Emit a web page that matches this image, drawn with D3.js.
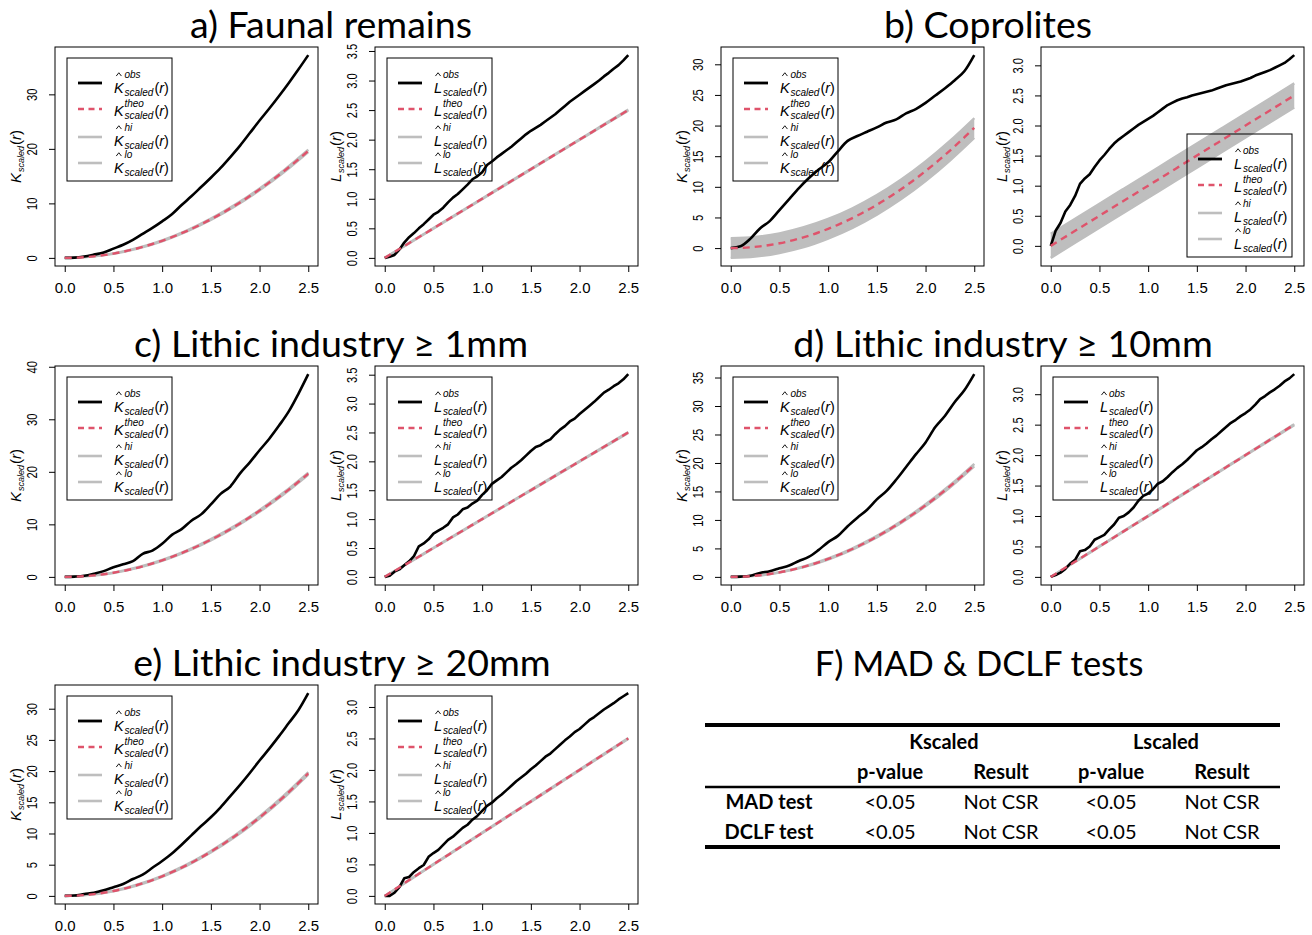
<!DOCTYPE html>
<html>
<head>
<meta charset="utf-8">
<script src="https://cdn.jsdelivr.net/npm/d3@7"></script>
<style>
  body { margin: 0; background: #fff; }
  svg text { font-family: "Liberation Sans", Arial, Helvetica, sans-serif; fill: #000; }
  svg text.ttl, svg text.tbl { font-family: Lato, "Open Sans", sans-serif; }
</style>
</head>
<body>
<svg id="fig" width="1312" height="935"></svg>
<script>
// ---- distance grids (r) ----
const rCoarse = [0, 0.1, 0.2, 0.3, 0.4, 0.5, 0.6, 0.7, 0.8, 0.9, 1.0, 1.1, 1.2, 1.3, 1.4, 1.5, 1.6, 1.7, 1.8, 1.9, 2.0, 2.1, 2.2, 2.3, 2.4, 2.5];
const rFine = [0, 0.05, 0.1, 0.15, 0.2, 0.25, 0.3, 0.35, 0.4, 0.45, 0.5, 0.55, 0.6, 0.65, 0.7, 0.75, 0.8, 0.85, 0.9, 0.95,
  1.0, 1.05, 1.1, 1.15, 1.2, 1.25, 1.3, 1.35, 1.4, 1.45, 1.5, 1.55, 1.6, 1.65, 1.7, 1.75, 1.8, 1.85, 1.9, 1.95,
  2.0, 2.05, 2.1, 2.15, 2.2, 2.25, 2.3, 2.35, 2.4, 2.45, 2.5];
const rEnv = [0, 0.25, 0.5, 0.75, 1.0, 1.25, 1.5, 1.75, 2.0, 2.25, 2.5];

// ---- theoretical (CSR) curves on rCoarse ----
const kTheo = [0, 0.031, 0.126, 0.283, 0.503, 0.785, 1.131, 1.539, 2.011, 2.545, 3.142, 3.801, 4.524, 5.309, 6.158, 7.069, 8.042, 9.079, 10.18, 11.34, 12.57, 13.85, 15.21, 16.62, 18.10, 19.63];
const lTheo = [0, 0.1, 0.2, 0.3, 0.4, 0.5, 0.6, 0.7, 0.8, 0.9, 1.0, 1.1, 1.2, 1.3, 1.4, 1.5, 1.6, 1.7, 1.8, 1.9, 2.0, 2.1, 2.2, 2.3, 2.4, 2.5];

// ---- simulation envelopes on rEnv ----
const kHiNarrow = [0, 0.21, 0.82, 1.83, 3.23, 5.02, 7.20, 9.77, 12.74, 16.10, 19.85];
const kLoNarrow = [0, 0.18, 0.75, 1.70, 3.05, 4.80, 6.94, 9.47, 12.39, 15.70, 19.42];
const lHiNarrow = [0, 0.254, 0.505, 0.756, 1.006, 1.257, 1.507, 1.757, 2.007, 2.258, 2.508];
const lLoNarrow = [0, 0.246, 0.495, 0.744, 0.994, 1.243, 1.493, 1.743, 1.993, 2.242, 2.492];
const kHiCopro = [1.6, 1.8, 2.4, 3.4, 4.75, 6.5, 8.65, 11.2, 14.15, 17.5, 21.2];
const kLoCopro = [-1.6, -1.4, -0.8, 0.15, 1.55, 3.3, 5.45, 8.0, 10.95, 14.3, 18.0];
const lHiCopro = [0.2, 0.45, 0.7, 0.95, 1.2, 1.45, 1.7, 1.95, 2.2, 2.45, 2.7];
const lLoCopro = [-0.2, 0.05, 0.3, 0.55, 0.8, 1.05, 1.3, 1.55, 1.8, 2.05, 2.3];

// ---- observed K (rCoarse) and L (rFine) ----
const kObsFaunal = [0, 0.05, 0.25, 0.6, 1.0, 1.7, 2.4, 3.3, 4.4, 5.5, 6.7, 8.0, 9.7, 11.3, 13.0, 14.7, 16.5, 18.5, 20.6, 22.9, 25.2, 27.4, 29.7, 32.1, 34.6, 37.2];
const lObsFaunal = [0, 0.02, 0.05, 0.14, 0.26, 0.35, 0.42, 0.50, 0.57, 0.65, 0.73, 0.78, 0.85, 0.94, 1.02, 1.08, 1.16, 1.24, 1.33, 1.38,
  1.45, 1.57, 1.63, 1.70, 1.76, 1.82, 1.88, 1.95, 2.02, 2.09, 2.15, 2.20, 2.25, 2.31, 2.37, 2.43, 2.50, 2.57, 2.64, 2.70,
  2.76, 2.82, 2.88, 2.94, 3.00, 3.07, 3.13, 3.20, 3.26, 3.34, 3.43];
const kObsCopro = [0, 0.3, 1.5, 3.2, 4.4, 6.2, 8.0, 9.8, 11.4, 12.8, 14.0, 15.8, 17.5, 18.3, 19.0, 19.7, 20.5, 21.0, 22.0, 22.7, 23.7, 24.9, 26.1, 27.4, 28.9, 31.5];
const lObsCopro = [0, 0.25, 0.38, 0.57, 0.68, 0.83, 1.03, 1.12, 1.19, 1.31, 1.42, 1.51, 1.61, 1.70, 1.77, 1.83, 1.89, 1.95, 2.01, 2.06,
  2.11, 2.16, 2.22, 2.28, 2.34, 2.38, 2.42, 2.45, 2.47, 2.50, 2.52, 2.54, 2.56, 2.58, 2.61, 2.64, 2.67, 2.69, 2.71, 2.73,
  2.76, 2.79, 2.83, 2.86, 2.89, 2.92, 2.96, 3.00, 3.04, 3.10, 3.17];
const kObsLithic1 = [0, 0.05, 0.2, 0.6, 1.1, 1.85, 2.4, 3.0, 4.4, 5.0, 6.3, 8.0, 9.1, 10.7, 11.9, 13.8, 15.8, 17.2, 19.7, 21.8, 24.1, 26.3, 28.8, 31.5, 34.9, 38.6];
const lObsLithic1 = [0, 0.02, 0.09, 0.13, 0.20, 0.27, 0.36, 0.53, 0.58, 0.65, 0.75, 0.80, 0.85, 0.91, 1.03, 1.08, 1.17, 1.20, 1.27, 1.32,
  1.42, 1.50, 1.61, 1.67, 1.73, 1.81, 1.89, 1.95, 2.02, 2.10, 2.18, 2.25, 2.28, 2.34, 2.38, 2.47, 2.55, 2.61, 2.69, 2.74,
  2.82, 2.89, 2.96, 3.03, 3.11, 3.19, 3.24, 3.30, 3.35, 3.42, 3.51];
const kObsLithic10 = [0, 0.05, 0.2, 0.7, 1.0, 1.5, 2.0, 2.8, 3.5, 4.7, 6.1, 7.2, 8.9, 10.4, 11.8, 13.6, 15.1, 17.1, 19.3, 21.5, 23.6, 26.3, 28.3, 30.7, 32.8, 35.6];
const lObsLithic10 = [0, 0.03, 0.07, 0.13, 0.22, 0.28, 0.42, 0.44, 0.50, 0.61, 0.65, 0.69, 0.78, 0.86, 0.97, 1.00, 1.06, 1.14, 1.25, 1.33,
  1.37, 1.44, 1.53, 1.57, 1.64, 1.72, 1.79, 1.85, 1.92, 2.00, 2.08, 2.13, 2.19, 2.26, 2.32, 2.39, 2.46, 2.53, 2.58, 2.64,
  2.69, 2.75, 2.83, 2.92, 2.97, 3.03, 3.08, 3.14, 3.21, 3.26, 3.33];
const kObsLithic20 = [0, 0.05, 0.3, 0.5, 0.9, 1.4, 1.9, 2.7, 3.4, 4.5, 5.6, 6.8, 8.2, 9.7, 11.2, 12.6, 14.2, 16.0, 17.8, 19.7, 21.7, 23.6, 25.6, 27.7, 29.8, 32.5];
const lObsLithic20 = [0, 0, 0.05, 0.14, 0.28, 0.30, 0.38, 0.44, 0.49, 0.62, 0.68, 0.73, 0.81, 0.89, 0.94, 1.01, 1.08, 1.13, 1.21, 1.27,
  1.35, 1.43, 1.48, 1.55, 1.61, 1.68, 1.75, 1.82, 1.88, 1.94, 2.01, 2.07, 2.14, 2.21, 2.26, 2.33, 2.40, 2.47, 2.53, 2.60,
  2.65, 2.72, 2.79, 2.84, 2.90, 2.96, 3.01, 3.06, 3.12, 3.17, 3.22];

// ---- tick labels ----
const xTicks = [0, 0.5, 1.0, 1.5, 2.0, 2.5];
const kTicks10to40 = [0, 10, 20, 30, 40];
const kTicks5to35 = [0, 5, 10, 15, 20, 25, 30, 35];
const lTicks = [0, 0.5, 1.0, 1.5, 2.0, 2.5, 3.0, 3.5];

// ---- titles and test table ----
const groupTitles = ["a) Faunal remains", "b) Coprolites", "c) Lithic industry \u2265 1mm", "d) Lithic industry \u2265 10mm", "e) Lithic industry \u2265 20mm"];
const tableTitle = "F) MAD & DCLF tests";
const tableGroups = ["Kscaled", "Lscaled"];
const tableCols = ["p-value", "Result", "p-value", "Result"];
const tableRows = ["MAD test", "DCLF test"];
const tableCells = [["<0.05", "Not CSR", "<0.05", "Not CSR"], ["<0.05", "Not CSR", "<0.05", "Not CSR"]];

// ---- styles ----
const RED = "#DF536B", GREY = "#BEBEBE";
const PW = 263, PH = 219;

const svg = d3.select("#fig");

// Panel specs: which series go in which box
const panels = [
  { fn: "K", left: 55,   top: 47,  obsR: rCoarse, obs: kObsFaunal,  theo: kTheo, hi: kHiNarrow, lo: kLoNarrow, ticks: kTicks10to40, legend: "tl" },
  { fn: "L", left: 375,  top: 47,  obsR: rFine,   obs: lObsFaunal,  theo: lTheo, hi: lHiNarrow, lo: lLoNarrow, ticks: lTicks, legend: "tl" },
  { fn: "K", left: 721,  top: 47,  obsR: rCoarse, obs: kObsCopro,   theo: kTheo, hi: kHiCopro,  lo: kLoCopro,  ticks: kTicks5to35, legend: "tl" },
  { fn: "L", left: 1041, top: 47,  obsR: rFine,   obs: lObsCopro,   theo: lTheo, hi: lHiCopro,  lo: lLoCopro,  ticks: lTicks, legend: "br" },
  { fn: "K", left: 55,   top: 366, obsR: rCoarse, obs: kObsLithic1, theo: kTheo, hi: kHiNarrow, lo: kLoNarrow, ticks: kTicks10to40, legend: "tl" },
  { fn: "L", left: 375,  top: 366, obsR: rFine,   obs: lObsLithic1, theo: lTheo, hi: lHiNarrow, lo: lLoNarrow, ticks: lTicks, legend: "tl" },
  { fn: "K", left: 721,  top: 366, obsR: rCoarse, obs: kObsLithic10, theo: kTheo, hi: kHiNarrow, lo: kLoNarrow, ticks: kTicks5to35, legend: "tl" },
  { fn: "L", left: 1041, top: 366, obsR: rFine,   obs: lObsLithic10, theo: lTheo, hi: lHiNarrow, lo: lLoNarrow, ticks: lTicks, legend: "tl" },
  { fn: "K", left: 55,   top: 685, obsR: rCoarse, obs: kObsLithic20, theo: kTheo, hi: kHiNarrow, lo: kLoNarrow, ticks: kTicks5to35, legend: "tl" },
  { fn: "L", left: 375,  top: 685, obsR: rFine,   obs: lObsLithic20, theo: lTheo, hi: lHiNarrow, lo: lLoNarrow, ticks: lTicks, legend: "tl" }
];

const titlePos = [[331, 38], [988, 38], [331, 357], [1003, 357], [342, 676]];

// Draws  base^sup_sub(r)  in plotmath style; returns total width
function mathLabel(g, x, y, o) {
  const base = g.append("text").attr("x", x).attr("y", y)
    .attr("font-size", o.size).attr("font-style", "italic").text(o.base);
  const wB = base.node().getComputedTextLength();
  const capTop = y - o.size * 0.72;
  let wSup = 0, wSub = 0;
  if (o.hat) {
    const cx = x + wB * 0.5, hb = capTop - 6.5;
    g.append("path").attr("d", `M${cx - 2.6},${hb} L${cx},${hb - 3.3} L${cx + 2.6},${hb}`)
      .attr("fill", "none").attr("stroke", "#000").attr("stroke-width", 0.9);
  }
  const sx = x + wB + 0.8;
  if (o.sup) {
    const t = g.append("text").attr("x", sx).attr("y", o.hat ? capTop - 5 : capTop + 1.8)
      .attr("font-size", o.small).attr("font-style", "italic").text(o.sup);
    wSup = t.node().getComputedTextLength();
  }
  if (o.sub) {
    const t = g.append("text").attr("x", sx).attr("y", y + 3)
      .attr("font-size", o.small).attr("font-style", "italic").text(o.sub);
    wSub = t.node().getComputedTextLength();
  }
  const px = sx + Math.max(wSup, wSub) + 1;
  const p = g.append("text").attr("x", px).attr("y", y).attr("font-size", o.size);
  p.append("tspan").text("(");
  p.append("tspan").attr("font-style", "italic").text("r");
  p.append("tspan").text(")");
  return px + p.node().getComputedTextLength() - x;
}

function drawPanel(p) {
  const g = svg.append("g");
  const x = d3.scaleLinear().domain([-0.1, 2.6]).range([p.left, p.left + PW]);
  const allY = p.obs.concat(p.theo, p.hi, p.lo);
  const [ymin, ymax] = d3.extent(allY);
  const pad = (ymax - ymin) * 0.04;
  const y = d3.scaleLinear().domain([ymin - pad, ymax + pad]).range([p.top + PH, p.top]);

  const clip = "clip" + p.left + "_" + p.top;
  svg.append("clipPath").attr("id", clip).append("rect")
    .attr("x", p.left).attr("y", p.top).attr("width", PW).attr("height", PH);
  const plot = g.append("g").attr("clip-path", `url(#${clip})`);

  // envelope band
  const env = rEnv.map((r, i) => ({ r, hi: p.hi[i], lo: p.lo[i] }));
  plot.append("path").datum(env)
    .attr("d", d3.area().x(d => x(d.r)).y0(d => y(d.lo)).y1(d => y(d.hi)).curve(d3.curveMonotoneX))
    .attr("fill", GREY);
  ["hi", "lo"].forEach(k => {
    plot.append("path").datum(env)
      .attr("d", d3.line().x(d => x(d.r)).y(d => y(d[k])).curve(d3.curveMonotoneX))
      .attr("fill", "none").attr("stroke", GREY).attr("stroke-width", 2.4);
  });
  // observed
  plot.append("path").datum(p.obsR.map((r, i) => [r, p.obs[i]]))
    .attr("d", d3.line().x(d => x(d[0])).y(d => y(d[1])).curve(p.fn === "K" ? d3.curveMonotoneX : d3.curveLinear))
    .attr("fill", "none").attr("stroke", "#000").attr("stroke-width", 2.6).attr("stroke-linejoin", "round");
  // theoretical
  plot.append("path").datum(rCoarse.map((r, i) => [r, p.theo[i]]))
    .attr("d", d3.line().x(d => x(d[0])).y(d => y(d[1])).curve(d3.curveMonotoneX))
    .attr("fill", "none").attr("stroke", RED).attr("stroke-width", 2.4).attr("stroke-dasharray", "7,5");

  // box
  g.append("rect").attr("x", p.left).attr("y", p.top).attr("width", PW).attr("height", PH)
    .attr("fill", "none").attr("stroke", "#000").attr("stroke-width", 1);

  // x axis
  const xa = g.append("g").attr("transform", `translate(0,${p.top + PH})`)
    .call(d3.axisBottom(x).tickValues(xTicks).tickSize(6).tickPadding(0).tickFormat(d3.format(".1f")));
  xa.select(".domain").remove();
  xa.selectAll("line").attr("stroke", "#000");
  xa.selectAll("text").attr("font-size", 15).attr("y", 27).attr("dy", null)
    .attr("font-family", "'Liberation Sans', Arial, sans-serif").attr("fill", "#000");

  // y axis
  const ticks = p.ticks.filter(t => t >= y.domain()[0] && t <= y.domain()[1]);
  const fmt = p.fn === "K" ? d3.format("d") : d3.format(".1f");
  const ya = g.append("g").attr("transform", `translate(${p.left},0)`)
    .call(d3.axisLeft(y).tickValues(ticks).tickSize(6).tickFormat(fmt));
  ya.select(".domain").remove();
  ya.selectAll("line").attr("stroke", "#000");
  ya.selectAll("text").each(function (d) {
    d3.select(this).attr("x", null).attr("dy", null)
      .attr("text-anchor", "middle").attr("font-size", 14)
      .attr("font-family", "'Liberation Sans', Arial, sans-serif").attr("fill", "#000")
      .attr("transform", `translate(-18,0) rotate(-90) scale(0.8,1)`);
  });

  // y label
  const yl = g.append("g");
  const w = mathLabel(yl, 0, 0, { base: p.fn, sub: "scaled", size: 15, small: 9 });
  yl.attr("transform", `translate(${p.left - 34},${p.top + PH / 2}) rotate(-90) translate(${-w / 2},0)`);

  // legend (transparent box, as in the plot device)
  const LW = 105, LH = 123;
  const lx = p.legend === "tl" ? p.left + 12 : p.left + PW - 12 - LW;
  const ly = p.legend === "tl" ? p.top + 11 : p.top + PH - 9 - LH;
  const lg = g.append("g");
  lg.append("rect").attr("x", lx).attr("y", ly).attr("width", LW).attr("height", LH)
    .attr("fill", "none").attr("stroke", "#000").attr("stroke-width", 1);
  const entries = [
    { sup: "obs", hat: true, color: "#000", dash: null, lineY: 25, baseY: 35, w: 2.8 },
    { sup: "theo", hat: false, color: RED, dash: "6,4.5", lineY: 51, baseY: 58, w: 2.4 },
    { sup: "hi", hat: true, color: GREY, dash: null, lineY: 79, baseY: 88, w: 2.6 },
    { sup: "lo", hat: true, color: GREY, dash: null, lineY: 105, baseY: 115, w: 2.6 }
  ];
  entries.forEach(e => {
    lg.append("line").attr("x1", lx + 11).attr("x2", lx + 35)
      .attr("y1", ly + e.lineY).attr("y2", ly + e.lineY)
      .attr("stroke", e.color).attr("stroke-width", e.w).attr("stroke-dasharray", e.dash);
    mathLabel(lg, lx + 47, ly + e.baseY, { base: p.fn, sup: e.sup, sub: "scaled", hat: e.hat, size: 14.5, small: 10 });
  });
}

panels.forEach(drawPanel);

// group titles
groupTitles.forEach((t, i) => {
  svg.append("text").attr("class", "ttl").attr("x", titlePos[i][0]).attr("y", titlePos[i][1])
    .attr("text-anchor", "middle").attr("font-size", 37.5).text(t);
});

// ---- test table ----
svg.append("text").attr("class", "ttl").attr("x", 979).attr("y", 676)
  .attr("text-anchor", "middle").attr("font-size", 34.5).text(tableTitle);

const tbl = svg.append("g");
const colX = [769, 890, 1001, 1111, 1222];
const groupX = [944, 1166];
const rowY = [749, 779, 809, 839];
[[725, 4], [787, 2.5], [847, 4]].forEach(([yy, sw]) => {
  tbl.append("line").attr("x1", 705).attr("x2", 1280).attr("y1", yy).attr("y2", yy)
    .attr("stroke", "#000").attr("stroke-width", sw);
});
tableGroups.forEach((t, i) => tbl.append("text").attr("class", "tbl").attr("x", groupX[i]).attr("y", rowY[0])
  .attr("text-anchor", "middle").attr("font-size", 20).attr("font-weight", "bold").text(t));
tableCols.forEach((t, i) => tbl.append("text").attr("class", "tbl").attr("x", colX[i + 1]).attr("y", rowY[1])
  .attr("text-anchor", "middle").attr("font-size", 20).attr("font-weight", "bold").text(t));
tableRows.forEach((t, r) => {
  tbl.append("text").attr("class", "tbl").attr("x", colX[0]).attr("y", rowY[2 + r])
    .attr("text-anchor", "middle").attr("font-size", 20).attr("font-weight", "bold").text(t);
  tableCells[r].forEach((c, i) => tbl.append("text").attr("class", "tbl").attr("x", colX[i + 1]).attr("y", rowY[2 + r])
    .attr("text-anchor", "middle").attr("font-size", 20).text(c));
});
</script>
</body>
</html>
